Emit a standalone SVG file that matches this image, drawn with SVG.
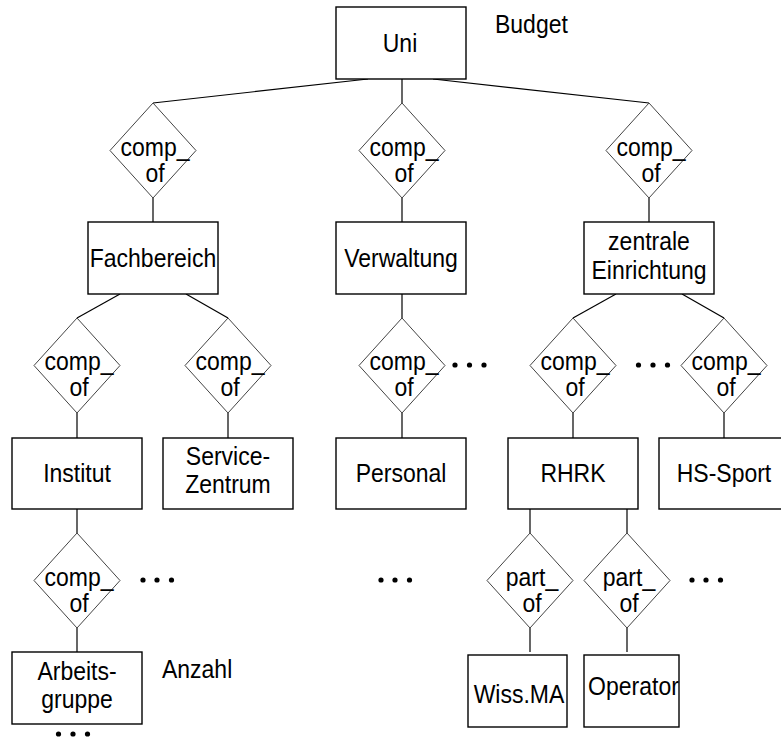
<svg xmlns="http://www.w3.org/2000/svg" width="781" height="739" viewBox="0 0 781 739">
<style>
.box{fill:#fff;stroke:#000;stroke-width:1.4}
.dia{fill:#fff;stroke:#444;stroke-width:1}
.ln{stroke:#000;stroke-width:1.2;fill:none}
text{font-family:"Liberation Sans",Arial,sans-serif;font-size:23px;fill:#000}
.c{text-anchor:middle}
.dot{fill:#000}
</style>
<rect width="781" height="739" fill="#fff"/>
<g id="connectors">
<line class="ln" x1="368" y1="79" x2="153" y2="103"/>
<line class="ln" x1="402" y1="79" x2="402" y2="103"/>
<line class="ln" x1="433" y1="79" x2="649" y2="103"/>
<line class="ln" x1="153" y1="198" x2="153" y2="222"/>
<line class="ln" x1="402" y1="198" x2="402" y2="222"/>
<line class="ln" x1="649" y1="198" x2="649" y2="222"/>
<line class="ln" x1="120" y1="294" x2="77" y2="318"/>
<line class="ln" x1="186" y1="294" x2="228" y2="318"/>
<line class="ln" x1="402" y1="294" x2="402" y2="318"/>
<line class="ln" x1="616" y1="294" x2="573" y2="318"/>
<line class="ln" x1="682" y1="294" x2="724" y2="318"/>
<line class="ln" x1="77" y1="413" x2="77" y2="438"/>
<line class="ln" x1="228" y1="413" x2="228" y2="438"/>
<line class="ln" x1="402" y1="413" x2="402" y2="438"/>
<line class="ln" x1="573" y1="413" x2="573" y2="438"/>
<line class="ln" x1="724" y1="413" x2="724" y2="438"/>
<line class="ln" x1="77" y1="509" x2="77" y2="533"/>
<line class="ln" x1="77" y1="628" x2="77" y2="652"/>
<line class="ln" x1="530" y1="509" x2="530" y2="533"/>
<line class="ln" x1="530" y1="628" x2="530" y2="652"/>
<line class="ln" x1="627" y1="509" x2="627" y2="533"/>
<line class="ln" x1="627" y1="628" x2="627" y2="652"/>
</g>
<g id="uni"><rect class="box" x="336" y="7" width="130" height="72"/><text class="c" x="400" y="52" transform="matrix(1,0,0,1.1,0,-5.2)">Uni</text></g>
<g id="budget"><text x="495" y="33" transform="matrix(1,0,0,1.1,0,-3.3)">Budget</text></g>
<g id="r1"><polygon class="dia" points="153,103 196,150.5 153,198 110,150.5"/><text class="c" x="155" y="156" transform="matrix(1,0,0,1.1,0,-15.6)">comp_</text><text class="c" x="155" y="182" transform="matrix(1,0,0,1.1,0,-18.2)">of</text></g>
<g id="r2"><polygon class="dia" points="402,103 445,150.5 402,198 359,150.5"/><text class="c" x="404" y="156" transform="matrix(1,0,0,1.1,0,-15.6)">comp_</text><text class="c" x="404" y="182" transform="matrix(1,0,0,1.1,0,-18.2)">of</text></g>
<g id="r3"><polygon class="dia" points="649,103 692,150.5 649,198 606,150.5"/><text class="c" x="651" y="156" transform="matrix(1,0,0,1.1,0,-15.6)">comp_</text><text class="c" x="651" y="182" transform="matrix(1,0,0,1.1,0,-18.2)">of</text></g>
<g id="fachbereich"><rect class="box" x="88" y="222" width="130" height="72"/><text class="c" x="153" y="267" transform="matrix(1,0,0,1.1,0,-26.7)">Fachbereich</text></g>
<g id="verwaltung"><rect class="box" x="336" y="222" width="130" height="72"/><text class="c" x="401" y="267" transform="matrix(1,0,0,1.1,0,-26.7)">Verwaltung</text></g>
<g id="zentrale"><rect class="box" x="584" y="222" width="130" height="72"/><text class="c" x="649" y="250" transform="matrix(1,0,0,1.1,0,-25)">zentrale</text><text class="c" x="649" y="279" transform="matrix(1,0,0,1.1,0,-27.9)">Einrichtung</text></g>
<g id="r4"><polygon class="dia" points="77,318 120,365.5 77,413 34,365.5"/><text class="c" x="79" y="370" transform="matrix(1,0,0,1.1,0,-37)">comp_</text><text class="c" x="79" y="396" transform="matrix(1,0,0,1.1,0,-39.6)">of</text></g>
<g id="r5"><polygon class="dia" points="228,318 271,365.5 228,413 185,365.5"/><text class="c" x="230" y="370" transform="matrix(1,0,0,1.1,0,-37)">comp_</text><text class="c" x="230" y="396" transform="matrix(1,0,0,1.1,0,-39.6)">of</text></g>
<g id="r6"><polygon class="dia" points="402,318 445,365.5 402,413 359,365.5"/><text class="c" x="404" y="370" transform="matrix(1,0,0,1.1,0,-37)">comp_</text><text class="c" x="404" y="396" transform="matrix(1,0,0,1.1,0,-39.6)">of</text></g>
<g id="r7"><polygon class="dia" points="573,318 616,365.5 573,413 530,365.5"/><text class="c" x="575" y="370" transform="matrix(1,0,0,1.1,0,-37)">comp_</text><text class="c" x="575" y="396" transform="matrix(1,0,0,1.1,0,-39.6)">of</text></g>
<g id="r8"><polygon class="dia" points="724,318 767,365.5 724,413 681,365.5"/><text class="c" x="726" y="370" transform="matrix(1,0,0,1.1,0,-37)">comp_</text><text class="c" x="726" y="396" transform="matrix(1,0,0,1.1,0,-39.6)">of</text></g>
<g id="institut"><rect class="box" x="12" y="438" width="130" height="71"/><text class="c" x="77" y="482" transform="matrix(1,0,0,1.1,0,-48.2)">Institut</text></g>
<g id="service"><rect class="box" x="163" y="438" width="130" height="71"/><text class="c" x="228" y="465" transform="matrix(1,0,0,1.1,0,-46.5)">Service-</text><text class="c" x="228" y="493" transform="matrix(1,0,0,1.1,0,-49.3)">Zentrum</text></g>
<g id="personal"><rect class="box" x="336" y="438" width="130" height="71"/><text class="c" x="401" y="482" transform="matrix(1,0,0,1.1,0,-48.2)">Personal</text></g>
<g id="rhrk"><rect class="box" x="508" y="438" width="130" height="71"/><text class="c" x="573" y="482" transform="matrix(1,0,0,1.1,0,-48.2)">RHRK</text></g>
<g id="hssport"><rect class="box" x="659" y="438" width="130" height="71"/><text class="c" x="724" y="482" transform="matrix(1,0,0,1.1,0,-48.2)">HS-Sport</text></g>
<g id="r9"><polygon class="dia" points="77,533 120,580.5 77,628 34,580.5"/><text class="c" x="79" y="586" transform="matrix(1,0,0,1.1,0,-58.6)">comp_</text><text class="c" x="79" y="612" transform="matrix(1,0,0,1.1,0,-61.2)">of</text></g>
<g id="r10"><polygon class="dia" points="530,533 573,580.5 530,628 487,580.5"/><text class="c" x="532" y="586" transform="matrix(1,0,0,1.1,0,-58.6)">part_</text><text class="c" x="532" y="612" transform="matrix(1,0,0,1.1,0,-61.2)">of</text></g>
<g id="r11"><polygon class="dia" points="627,533 670,580.5 627,628 584,580.5"/><text class="c" x="629" y="586" transform="matrix(1,0,0,1.1,0,-58.6)">part_</text><text class="c" x="629" y="612" transform="matrix(1,0,0,1.1,0,-61.2)">of</text></g>
<g id="arbeitsgruppe"><rect class="box" x="12" y="652" width="130" height="72"/><text class="c" x="77" y="680" transform="matrix(1,0,0,1.1,0,-68)">Arbeits-</text><text class="c" x="77" y="708" transform="matrix(1,0,0,1.1,0,-70.8)">gruppe</text></g>
<g id="anzahl"><text x="162" y="678" transform="matrix(1,0,0,1.1,0,-67.8)">Anzahl</text></g>
<g id="wissma"><rect class="box" x="468" y="655" width="99" height="72"/><text class="c" x="519" y="703" transform="matrix(1,0,0,1.1,0,-70.3)">Wiss.MA</text></g>
<g id="operator"><rect class="box" x="584" y="655" width="95" height="72"/><text x="588" y="695" textLength="91" transform="matrix(1,0,0,1.1,0,-69.5)">Operator</text></g>
<g id="dots">
<circle class="dot" cx="455" cy="365" r="2.6"/><circle class="dot" cx="469.5" cy="365" r="2.6"/><circle class="dot" cx="484" cy="365" r="2.6"/>
<circle class="dot" cx="638.5" cy="365" r="2.6"/><circle class="dot" cx="653" cy="365" r="2.6"/><circle class="dot" cx="667.5" cy="365" r="2.6"/>
<circle class="dot" cx="143" cy="580" r="2.6"/><circle class="dot" cx="157" cy="580" r="2.6"/><circle class="dot" cx="171.5" cy="580" r="2.6"/>
<circle class="dot" cx="381" cy="580" r="2.6"/><circle class="dot" cx="395" cy="580" r="2.6"/><circle class="dot" cx="409.5" cy="580" r="2.6"/>
<circle class="dot" cx="692" cy="580" r="2.6"/><circle class="dot" cx="706" cy="580" r="2.6"/><circle class="dot" cx="720.5" cy="580" r="2.6"/>
<circle class="dot" cx="58.5" cy="734" r="2.6"/><circle class="dot" cx="73" cy="734" r="2.6"/><circle class="dot" cx="87.5" cy="734" r="2.6"/>
</g>
</svg>
